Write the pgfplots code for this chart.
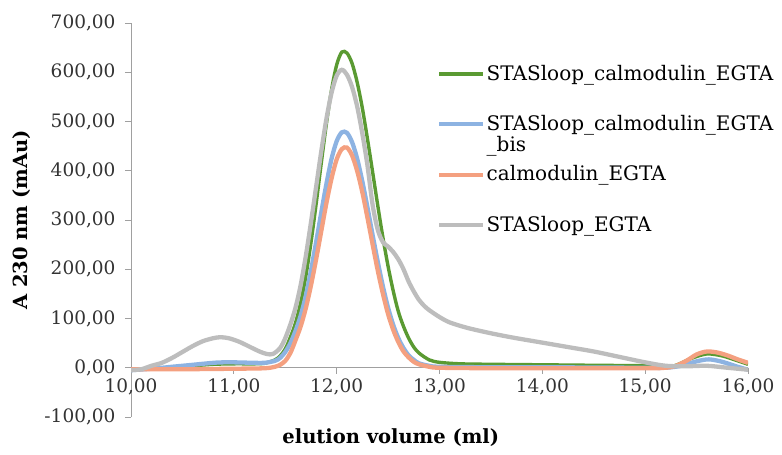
\documentclass[border=0pt]{standalone}
\usepackage{pgfplots}
\pgfplotsset{compat=1.18}
\usepackage{fontspec}
\setmainfont{DejaVu Serif}
\definecolor{cgreen}{HTML}{5A9A32}
\definecolor{cblue}{HTML}{8DB3E2}
\definecolor{corange}{HTML}{F4A080}
\definecolor{cgray}{HTML}{BDBDBD}
\definecolor{caxis}{HTML}{A0A0A0}
\begin{document}
\begin{tikzpicture}
\useasboundingbox (0,0) rectangle (782bp,455bp);
\begin{axis}[
  at={(131bp,38bp)}, anchor=south west,
  scale only axis, width=617bp, height=394bp,
  xmin=10, xmax=16, ymin=-100, ymax=700,
  axis x line*=middle, axis y line*=left,
  hide obscured x ticks=false, hide obscured y ticks=false,
  axis line style={caxis, line width=0.8pt},
  major tick style={caxis, line width=0.8pt},
  major tick length=6bp, tick align=outside,
  xtick={10,11,12,13,14,15,16},
  ytick={-100,0,100,200,300,400,500,600,700},
  /pgf/number format/assume math mode=true,
  /pgf/number format/.cd, fixed, fixed zerofill, precision=2, use comma, 1000 sep={},
  /pgfplots/.cd,
  ticklabel style={font=\fontsize{18.5bp}{21bp}\selectfont, text=black!80},
  xticklabel style={yshift=-1bp},
  yticklabel style={xshift=-6bp},
  xlabel={\textbf{elution volume (ml)}},
  ylabel={\textbf{A 230 nm (mAu)}},
  label style={font=\fontsize{19.5bp}{22bp}\selectfont},
  xlabel style={at={(axis description cs:0.421,-0.053)}, anchor=center},
  ylabel style={at={(axis description cs:-0.177,0.5)}, anchor=center, rotate=0},
  legend style={at={(axis description cs:0.496,0.876)}, anchor=north west, draw=none, fill=none,
    font=\fontsize{20bp}{23bp}\selectfont, row sep=39bp, inner sep=0pt,
    nodes={inner sep=1.5bp}},
  legend cell align=left,
  legend image code/.code={\draw[#1, line width=4bp] (0bp,7bp) -- (44bp,7bp);},
  every axis plot/.append style={line width=4.3bp, smooth, tension=0.5, no marks},
]
\addplot[cgreen, line width=3.4bp] coordinates {
(10.0,-4) (10.2,-2) (10.4,1) (10.6,4) (10.8,7) (11.0,8) (11.2,8) (11.3,9) (11.40,16) (11.45,24) (11.50,38) (11.55,62) (11.60,91) (11.65,132) (11.70,186) (11.75,254) (11.80,332) (11.85,415) (11.90,495) (11.95,564) (12.00,615) (12.05,641) (12.10,639) (12.15,618) (12.20,579) (12.25,527) (12.30,464) (12.35,397) (12.40,329) (12.45,264) (12.50,206) (12.55,156) (12.60,114) (12.65,84) (12.70,60) (12.75,42) (12.80,30) (12.90,16) (13.0,11) (13.2,8) (13.5,7) (14.0,6) (14.5,5) (15.0,4) (15.2,2) (15.3,5) (15.45,19) (15.6,28) (15.75,24) (15.9,14) (16.0,7)
};
\addlegendentry{\smash{STASloop\_calmodulin\_EGTA}}
\addplot[cblue] coordinates {
(10.0,-5) (10.2,-2) (10.4,2) (10.6,6) (10.8,10) (10.9,11) (11.0,11) (11.2,10) (11.3,10) (11.40,14) (11.45,20) (11.50,32) (11.55,50) (11.60,75) (11.65,106) (11.70,146) (11.75,197) (11.80,255) (11.85,315) (11.90,373) (11.95,424) (12.00,460) (12.05,478) (12.10,477) (12.15,458) (12.20,424) (12.25,378) (12.30,325) (12.35,269) (12.40,215) (12.45,165) (12.50,122) (12.55,87) (12.60,60) (12.65,40) (12.70,25) (12.75,16) (12.80,9) (12.90,4) (13.0,2) (13.5,1) (14.0,1) (15.0,0) (15.2,0) (15.35,4) (15.5,13) (15.62,17) (15.75,12) (15.9,2) (16.0,-4)
};
\addlegendentry{\smash{\begin{tabular}[t]{@{}l@{}}STASloop\_calmodulin\_EGTA\\[-2bp]\_bis\end{tabular}}}
\addplot[corange] coordinates {
(10.0,-3) (10.5,-3) (11.0,-2) (11.3,-1) (11.40,2) (11.45,6) (11.50,14) (11.55,30) (11.60,56) (11.65,84) (11.70,121) (11.75,167) (11.80,220) (11.85,277) (11.90,334) (11.95,384) (12.00,423) (12.05,444) (12.10,447) (12.15,431) (12.20,399) (12.25,356) (12.30,304) (12.35,250) (12.40,197) (12.45,150) (12.50,109) (12.55,77) (12.60,52) (12.65,33) (12.70,21) (12.75,12) (12.80,7) (12.90,2) (13.0,0) (13.5,-1) (14.0,-1) (15.0,-1) (15.2,0) (15.3,4) (15.4,14) (15.5,27) (15.6,33) (15.7,31) (15.8,25) (15.9,17) (16.0,10)
};
\addlegendentry{\smash{calmodulin\_EGTA}}
\addplot[cgray] coordinates {
(10.0,-5) (10.1,-3) (10.2,4) (10.3,10) (10.4,20) (10.5,32) (10.6,44) (10.7,54) (10.8,60) (10.87,62) (10.95,60) (11.05,53) (11.15,43) (11.25,33) (11.32,28) (11.38,28) (11.45,40) (11.50,60) (11.55,88) (11.60,122) (11.65,168) (11.70,227) (11.75,295) (11.80,367) (11.85,439) (11.90,505) (11.95,558) (12.00,593) (12.05,605) (12.10,595) (12.15,570) (12.20,530) (12.25,475) (12.30,410) (12.35,330) (12.40,280) (12.45,255) (12.50,246) (12.55,235) (12.60,220) (12.65,200) (12.70,175) (12.75,155) (12.80,138) (12.85,126) (12.90,117) (13.0,103) (13.1,92) (13.27,81) (13.5,70) (13.72,61) (14.0,51) (14.25,42) (14.5,33) (14.75,22) (15.0,11) (15.2,4) (15.4,3) (15.6,4) (15.8,0) (16.0,-4)
};
\addlegendentry{\smash{STASloop\_EGTA}}
\end{axis}
\end{tikzpicture}
\end{document}
